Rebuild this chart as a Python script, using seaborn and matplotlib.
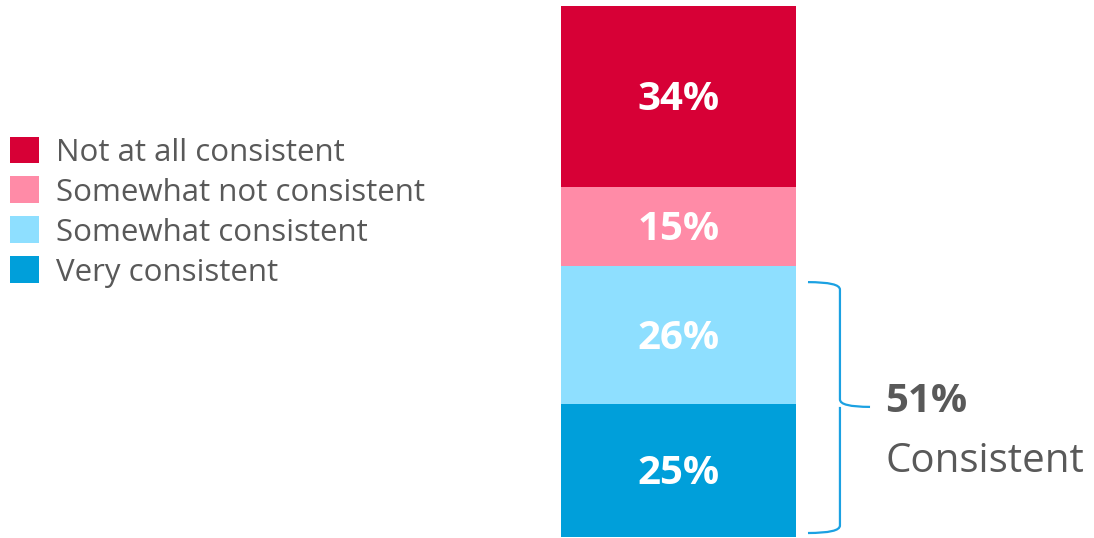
import numpy as np
import matplotlib.pyplot as plt
import seaborn as sns
from matplotlib.patches import Patch
from matplotlib.path import Path
from matplotlib.patches import PathPatch
import matplotlib.transforms as mtransforms

# data (bottom -> top of the stack)
categories = ["Very consistent", "Somewhat consistent",
              "Somewhat not consistent", "Not at all consistent"]
values = [25, 26, 15, 34]
colors = ["#009FDA", "#8EDFFF", "#FF8BA7", "#D70036"]
consistent_total = 51
consistent_label = "Consistent"

sns.set_style("white")
plt.rcParams["font.family"] = ["Open Sans", "DejaVu Sans"]
GREY = "#595959"

W, H = 1094, 538
fig = plt.figure(figsize=(W / 100, H / 100), dpi=100)
ax = fig.add_axes([561 / W, 1 - 537 / H, 235 / W, 531 / H])

cum = np.cumsum(values)
# draw from the top layer down so lower ones sit in front
for i in range(len(values) - 1, -1, -1):
    sns.barplot(x=[""], y=[cum[i]], color=colors[i], saturation=1,
                width=1, linewidth=0, ax=ax)

bottoms = cum - np.array(values)
for b, v in zip(bottoms, values):
    ax.text(0, b + v / 2 - 0.6, f"{v}%", ha="center", va="center",
            color="white", fontsize=29, fontweight="bold")

ax.set_xlim(-0.5, 0.5)
ax.set_ylim(0, 100)
ax.axis("off")

# brace on the "consistent" part
trans = mtransforms.blended_transform_factory(ax.transAxes, ax.transData)
y0, y1 = 0.75, 48.0
ym = 24.5
xa, xb, xc = 1.051, 1.187, 1.315
k = 1.4
verts = [
    (xa, y1), (xb, y1), (xb, y1 - k),
    (xb, ym + k), (xb, ym), (xc, ym),
    (xb, ym), (xb, ym - k),
    (xb, y0 + k), (xb, y0), (xa, y0),
]
codes = [Path.MOVETO, Path.CURVE3, Path.CURVE3,
         Path.LINETO, Path.CURVE3, Path.CURVE3,
         Path.MOVETO, Path.CURVE3, Path.CURVE3,
         Path.CURVE3, Path.CURVE3]
brace = PathPatch(Path(verts, codes), transform=trans, fill=False,
                  edgecolor="#1BA1E2", linewidth=1.6, clip_on=False)
ax.add_patch(brace)

ax.text(1.38, 25.6, f"{consistent_total}%", transform=trans, ha="left",
        va="center", fontsize=29, fontweight="bold", color=GREY)
ax.text(1.38, 14.2, consistent_label, transform=trans, ha="left",
        va="center", fontsize=29, color=GREY)

handles = [Patch(facecolor=c, edgecolor="none") for c in colors[::-1]]
leg = fig.legend(handles, categories[::-1], loc="upper left",
                 bbox_to_anchor=(-3 / W, 1 - 124 / H), frameon=False,
                 fontsize=22.5, handlelength=0.95, handleheight=0.95,
                 handletextpad=0.55, labelspacing=0.28, borderaxespad=0)
for t in leg.get_texts():
    t.set_color(GREY)

fig.savefig("out.png", dpi=100)
